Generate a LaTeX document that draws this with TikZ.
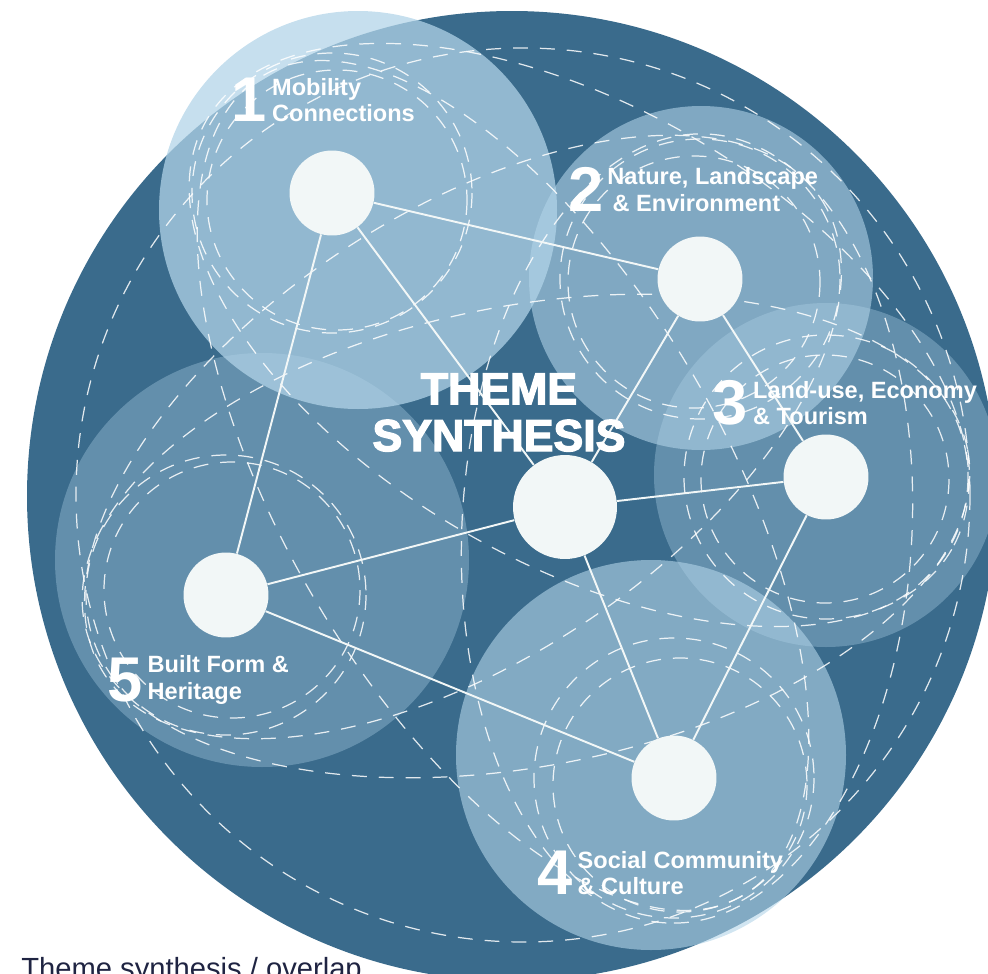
\documentclass[tikz,border=0pt]{standalone}
\usepackage{fontspec}
\setmainfont{Liberation Sans}
\newfontfamily\heavyfont[FakeBold=3]{Liberation Sans}
\usepackage{tikz}
\usetikzlibrary{positioning,calc}

\definecolor{deepblue}{RGB}{58,107,140}
\definecolor{themefill}{RGB}{178,212,232}
\definecolor{nodewhite}{RGB}{242,247,247}
\definecolor{captionnavy}{RGB}{31,36,66}

\tikzstyle{theme} = [fill=themefill]
\tikzstyle{hub} = [circle, fill=nodewhite, minimum size=1.7cm, inner sep=0pt]
\tikzstyle{core} = [hub, minimum size=2.08cm]
\tikzstyle{link} = [draw=nodewhite, line width=1.1pt]
\tikzstyle{ring} = [draw=white, draw opacity=0.85, line width=0.7pt, dash pattern=on 8.5pt off 6.8pt]
\tikzstyle{num} = [text=white, font=\bfseries\fontsize{36}{36}\selectfont, inner sep=0pt]
\tikzstyle{themetext} = [text=white, font=\bfseries\fontsize{13.4}{15}\selectfont, align=left, inner sep=0pt]
\tikzstyle{synthtitle} = [text=white, font=\heavyfont\bfseries\fontsize{25.4}{26.6}\selectfont, align=center, inner sep=0pt]

\begin{document}
\begin{tikzpicture}[x=0.02cm, y=-0.02cm]
\useasboundingbox (0,0) rectangle (988,974);

% Theme positions
\coordinate (p1) at (332,193);
\coordinate (p2) at (700,279);
\coordinate (p3) at (826,477);
\coordinate (p4) at (674,778);
\coordinate (p5) at (226,595);
\coordinate (pc) at (565,507);
\coordinate (m13) at ($(p1)!0.5!(p3)$);
\coordinate (m14) at ($(p1)!0.5!(p4)$);
\coordinate (m24) at ($(p2)!0.5!(p4)$);
\coordinate (m25) at ($(p2)!0.5!(p5)$);
\coordinate (m35) at ($(p3)!0.5!(p5)$);

% Background
\fill[deepblue] (512,496) circle (485);

% Theme circles
\fill[theme, fill opacity=0.74] (358,210) circle (199);
\fill[theme, fill opacity=0.59] (701,278) circle (172);
\fill[theme, fill opacity=0.35] (826,475) circle (172);
\fill[theme, fill opacity=0.6] (651,755) circle (195);
\fill[theme, fill opacity=0.35] (262,560) circle (207);

% Overlap rings
\draw[ring] (523,495) circle (447);
\draw[ring, rotate around={-29.9:(m13)}] (m13) ellipse (430 and 228);
\draw[ring, rotate around={-59.7:(m14)}] (m14) ellipse (475 and 220);
\draw[ring, rotate around={-93:(m24)}] (m24) ellipse (395 and 225);
\draw[ring, rotate around={33.7:(m25)}] (m25) ellipse (430 and 222);
\draw[ring, rotate around={11.1:(m35)}] (m35) ellipse (450 and 230);

\draw[ring] (p1) circle (140);
\draw[ring] ([shift={(5,7)}]p1) circle (130);
\draw[ring] (p2) circle (140);
\draw[ring] ([shift={(-6,3)}]p2) circle (126);
\draw[ring] (p3) circle (142);
\draw[ring] ([shift={(-1,2)}]p3) circle (124);
\draw[ring] (p4) circle (140);
\draw[ring] ([shift={(6,7)}]p4) circle (127);
\draw[ring] (p5) circle (140);
\draw[ring] ([shift={(6,-5)}]p5) circle (128);

% Nodes
\node[hub] (n1) at (p1) {};
\node[hub] (n2) at (p2) {};
\node[hub] (n3) at (p3) {};
\node[hub] (n4) at (p4) {};
\node[hub] (n5) at (p5) {};
\node[core] (nc) at (pc) {};

% Connections
\draw[link] (n1) -- (n2);
\draw[link] (n2) -- (n3);
\draw[link] (n3) -- (n4);
\draw[link] (n4) -- (n5);
\draw[link] (n5) -- (n1);
\draw[link] (nc) -- (n1);
\draw[link] (nc) -- (n2);
\draw[link] (nc) -- (n3);
\draw[link] (nc) -- (n4);
\draw[link] (nc) -- (n5);

% Labels
\node[num] (num1) at (249.5,100) {1};
\node[themetext, right=2.5pt of num1] (txt1) {Mobility\\Connections};
\node[num] (num2) at (586.5,189.5) {2};
\node[themetext, right=1.5pt of num2] (txt2) {Nature, Landscape\\\hspace*{3pt}\& Environment};
\node[num] (num3) at (730.5,403) {3};
\node[themetext, right=2.5pt of num3] (txt3) {Land-use, Economy\\\& Tourism};
\node[num] (num4) at (555,873) {4};
\node[themetext, right=2.5pt of num4] (txt4) {Social Community\\\& Culture};
\node[num] (num5) at (125,680) {5};
\node[themetext, right=2.5pt of num5] (txt5) {Built Form \&\\Heritage};

\node[synthtitle] (title) at (499,412.5) {THEME\\SYNTHESIS};
\node[anchor=base west, inner sep=0pt, text=captionnavy, font=\fontsize{16.6}{20}\selectfont] (caption) at (21,978) {Theme synthesis / overlap};

\end{tikzpicture}
\end{document}
